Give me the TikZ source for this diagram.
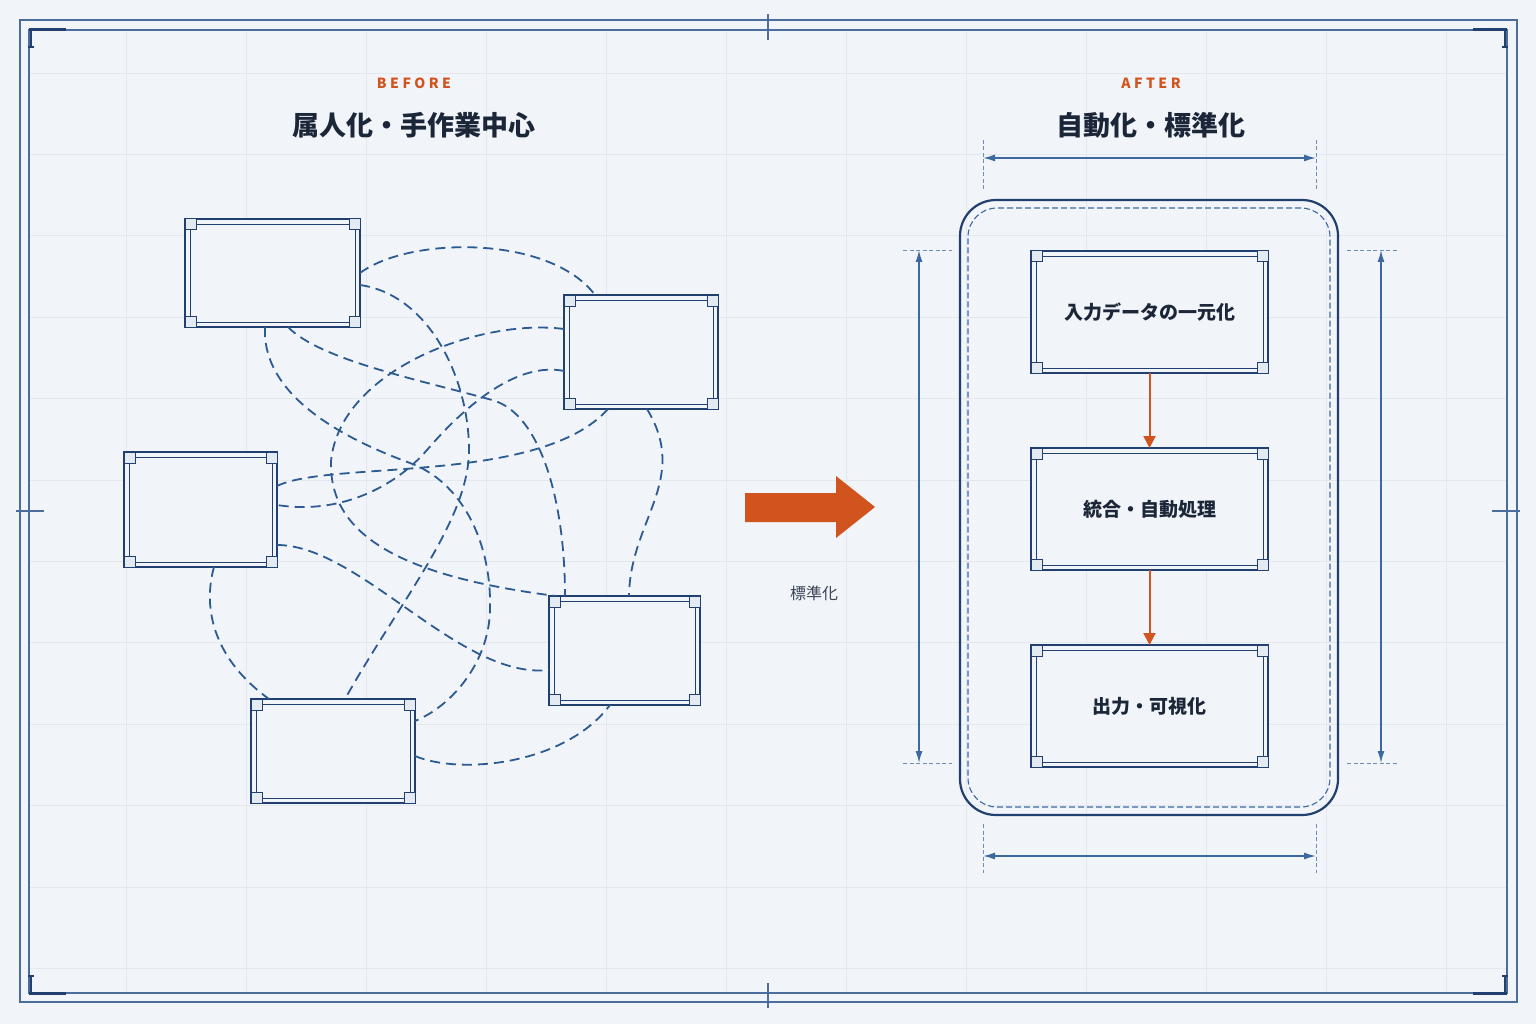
\documentclass[tikz,border=0pt]{standalone}
\usepackage{fontspec}
\setmainfont{Noto Sans CJK JP}
\newfontfamily\spaced{Noto Sans CJK JP}[LetterSpace=25]
\usetikzlibrary{arrows.meta}

\definecolor{bg}{HTML}{F1F4F8}
\definecolor{gridc}{HTML}{E3E8EF}
\definecolor{framec}{HTML}{4C6D9C}
\definecolor{navy}{HTML}{21406F}
\definecolor{linkc}{HTML}{2C5A93}
\definecolor{dimc}{HTML}{3D6A9E}
\definecolor{accent}{HTML}{D1531E}
\definecolor{ink}{HTML}{1B2638}
\definecolor{subink}{HTML}{3A4455}
\definecolor{cornerc}{HTML}{E4EAF2}

% inner line and corner squares of a card
\newcommand\cardmarks[1]{%
  \draw[navy, line width=0.8pt] ([shift={(5,5)}]#1.north west) rectangle ([shift={(-5,-5)}]#1.south east);
  \foreach \c/\sx/\sy in {north west/1/1, north east/-1/1, south west/1/-1, south east/-1/-1}
    \draw[navy, line width=1pt, fill=cornerc] (#1.\c) rectangle ++(11*\sx,11*\sy);
}

\begin{document}
\begin{tikzpicture}[x=1pt,y=-1pt,>={Latex[length=11pt,width=6.5pt]},
  card/.style={draw=navy, line width=2.8pt, rectangle, outer sep=0pt, inner sep=0pt, fill=bg,
    font=\fontsize{19}{22}\selectfont\bfseries, text=ink},
  link/.style={draw=linkc, line width=1.8pt, dash pattern=on 10pt off 6pt},
  title/.style={font=\fontsize{27}{30}\selectfont\bfseries, text=ink},
  tag/.style={font=\spaced\fontsize{14}{16}\selectfont\bfseries, text=accent},
  dim/.style={draw=dimc, line width=1.5pt, {Latex[length=12pt,width=7pt]}-{Latex[length=12pt,width=7pt]}},
  ext/.style={draw=dimc!75, line width=0.9pt, dash pattern=on 4pt off 2.5pt},
  flow/.style={draw=accent, line width=2pt, -{Triangle[length=12pt,width=12pt]}},
  gridline/.style={draw=gridc, line width=0.8pt},
  ticks/.style={draw=framec, line width=2pt}]

\useasboundingbox (0,0) rectangle (1536,1024);
\fill[bg] (0,0) rectangle (1536,1024);

% grid
\foreach \x in {126,246,...,1446} \draw[gridline] (\x,31) -- (\x,992);
\foreach \k in {0,...,11} \draw[gridline] (30,73+81.4*\k) -- (1506,73+81.4*\k);

% frame
\draw[framec, line width=1.5pt] (20,20) rectangle (1517,1002);
\draw[framec, line width=2pt] (29,30) rectangle (1507,993);
\draw[navy, line width=3pt] (29,30) -- (66,30) (1473,30) -- (1507,30) (29,993) -- (66,993) (1473,993) -- (1507,993);
\draw[navy, line width=2pt] (31,28) -- (31,47) (28,47) -- (34,47) (1505,28) -- (1505,47) (1502,47) -- (1508,47)
  (31,976) -- (31,995) (28,976) -- (34,976) (1505,976) -- (1505,995) (1502,976) -- (1508,976);
\draw[ticks] (768,14) -- (768,40) (768,983) -- (768,1008) (16,511) -- (44,511) (1492,511) -- (1520,511);

% before
\node(BefTag)[tag] at (414,83) {BEFORE};
\node(BefTitle)[title] at (414,125) {属人化・手作業中心};

\node(A)[card, minimum width=175pt, minimum height=108pt] at (272.5,273) {};
\node(B)[card, minimum width=154pt, minimum height=114pt] at (641,352) {};
\node(C)[card, minimum width=153pt, minimum height=115pt] at (200.5,509.5) {};
\node(D)[card, minimum width=151pt, minimum height=109pt] at (624.5,650.5) {};
\node(E)[card, minimum width=164pt, minimum height=104pt] at (333,751) {};

\draw[link] (A.east) .. controls +(50,-37) and +(-45,-60) .. ([xshift=-46pt]B.north);
\draw[link] ([yshift=-12pt]A.east) .. controls +(70,10) and +(0,-70) .. (469,450)
  .. controls +(0,70) and +(55,-98) .. ([xshift=12pt]E.north);
\draw[link] ([xshift=-7.5pt]A.south) .. controls +(-3,58) and +(-90,-33) .. (410,463)
  .. controls +(50,18) and +(2,-70) .. (490,610)
  .. controls +(-1,50) and +(39,-16) .. ([yshift=30pt]E.east);
\draw[link] ([xshift=15.5pt]A.south) .. controls +(32,33) and +(-72,-20) .. (492,400)
  .. controls +(48,13) and +(0,-96) .. ([xshift=-59.5pt]D.north);
\draw[link] ([yshift=23pt]B.west) .. controls +(-84,-11) and +(9,-91) .. (331,461)
  .. controls +(-2,69) and +(-166,-21) .. ([xshift=7pt]D.north west);
\draw[link] ([yshift=-19pt]B.west) .. controls +(-44,-9) and +(43,-50) .. (427,450)
  .. controls +(-32,37) and +(63,10) .. ([yshift=4.5pt]C.east);
\draw[link] ([yshift=23.5pt]C.east) .. controls +(53,-26) and +(-68,76) .. ([xshift=-33pt]B.south);
\draw[link] ([xshift=6pt]B.south) .. controls +(43,71) and +(1,-76) .. ([xshift=4.5pt]D.north);
\draw[link] ([yshift=-35.5pt]C.east) .. controls +(83,0) and +(-89,10) .. ([yshift=-19.5pt]D.west);
\draw[link] ([xshift=13.5pt]C.south) .. controls +(-12,43) and +(-54,-39) .. ([xshift=-64pt]E.north);
\draw[link] ([yshift=-5pt]E.east) .. controls +(45,19) and +(-45,60) .. ([xshift=-14.5pt]D.south);

\foreach \n in {A,B,C,D,E} \cardmarks{\n};

% arrow
\fill[accent] (745,493) -- (836,493) -- (836,476) -- (875,507) -- (836,538) -- (836,522) -- (745,522) -- cycle;
\node(Std)[font=\fontsize{16}{18}\selectfont, text=subink] at (814,593) {標準化};

% after
\node(AftTag)[tag] at (1151,83) {AFTER};
\node(AftTitle)[title] at (1151,125) {自動化・標準化};

\node(Box)[draw=navy, line width=2.2pt, rounded corners=36pt, minimum width=378pt, minimum height=615pt] at (1149,507.5) {};
\node(BoxIn)[draw=dimc, line width=1.1pt, dash pattern=on 6pt off 3pt, rounded corners=29pt, minimum width=362pt, minimum height=599pt] at (1149,507.5) {};

\node(R1)[card, minimum width=237pt, minimum height=122pt] at (1149.5,312) {入力データの一元化};
\node(R2)[card, minimum width=237pt, minimum height=122pt] at (1149.5,509) {統合・自動処理};
\node(R3)[card, minimum width=237pt, minimum height=122pt] at (1149.5,706) {出力・可視化};
\foreach \n in {R1,R2,R3} \cardmarks{\n};

\draw (R1.south) edge[flow] (R2.north);
\draw (R2.south) edge[flow] (R3.north);

% dimensions
\coordinate(T1) at (983,158); \coordinate(T2) at (1316,158);
\coordinate(U1) at (983,856); \coordinate(U2) at (1316,856);
\coordinate(L1) at (919,250); \coordinate(L2) at (919,763);
\coordinate(W1) at (1381,250); \coordinate(W2) at (1381,763);
\draw (T1) edge[dim] (T2);
\draw (U1) edge[dim] (U2);
\draw (L1) edge[dim] (L2);
\draw (W1) edge[dim] (W2);
\draw[ext] (983,140) -- (983,190) (1316,140) -- (1316,190);
\draw[ext] (983,824) -- (983,873) (1316,824) -- (1316,873);
\draw[ext] (903,250) -- (952,250) (903,763) -- (952,763);
\draw[ext] (1347,250) -- (1397,250) (1347,763) -- (1397,763);
\end{tikzpicture}
\end{document}
